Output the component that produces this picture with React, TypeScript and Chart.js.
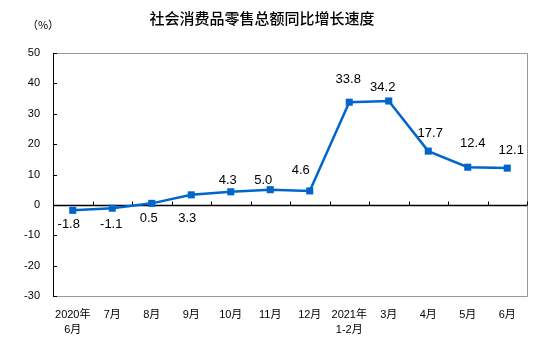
import React, { useEffect, useRef } from "react";
import { Chart, registerables } from "chart.js";

Chart.register(...registerables);

const titleText = "社会消费品零售总额同比增长速度";
const unitText = "（%）";
const categories: (string | string[])[] = [
  ["2020年", "6月"], "7月", "8月", "9月", "10月", "11月", "12月",
  ["2021年", "1-2月"], "3月", "4月", "5月", "6月",
];
const growth = [-1.8, -1.1, 0.5, 3.3, 4.3, 5.0, 4.6, 33.8, 34.2, 17.7, 12.4, 12.1];
const valueLabels = ["-1.8", "-1.1", "0.5", "3.3", "4.3", "5.0", "4.6", "33.8", "34.2", "17.7", "12.4", "12.1"];
const yMin = -30;
const yMax = 50;
const yStep = 10;

// label placement relative to its point (style only)
const labelDx = [-4, -1, -3, -4, -3, -7, -9, -1, -6, 2, 5, 4];
const labelDy = [14, 16, 15, 24, -11, -9, -20, -23, -14, -18, -24, -18];

const BLUE = "#0066CC";
const GRAY = "#999999";
const FONT = '"Liberation Sans", Arial, "Noto Sans CJK SC", sans-serif';

const framePlugin = {
  id: "frame",
  beforeDatasetsDraw(chart: any) {
    const { ctx, chartArea } = chart;
    const { left, right, top, bottom } = chartArea;
    const y = chart.scales.y;
    const x = chart.scales.x;
    ctx.save();
    ctx.lineWidth = 1;
    ctx.strokeStyle = GRAY;
    ctx.beginPath();
    ctx.moveTo(left, top + 0.5);
    ctx.lineTo(right + 0.5, top + 0.5);
    ctx.lineTo(right + 0.5, bottom + 0.5);
    ctx.lineTo(left, bottom + 0.5);
    ctx.stroke();
    ctx.strokeStyle = "#000";
    ctx.beginPath();
    ctx.moveTo(left + 0.5, top);
    ctx.lineTo(left + 0.5, bottom + 1);
    ctx.stroke();
    // y ticks inward
    for (let v = yMin; v <= yMax; v += yStep) {
      const py = Math.round(y.getPixelForValue(v)) + 0.5;
      ctx.beginPath();
      ctx.moveTo(left, py);
      ctx.lineTo(left + 4, py);
      ctx.stroke();
    }
    // zero line with ticks at category boundaries
    const zy = Math.round(y.getPixelForValue(0)) + 0.5;
    ctx.lineWidth = 1.3;
    ctx.beginPath();
    ctx.moveTo(left, zy);
    ctx.lineTo(right, zy);
    ctx.stroke();
    ctx.lineWidth = 1;
    for (let i = 0; i <= categories.length; i++) {
      const px = Math.round(x.getPixelForValue(i - 0.5)) + 0.5;
      ctx.beginPath();
      ctx.moveTo(px, zy);
      ctx.lineTo(px, zy - 4);
      ctx.stroke();
    }
    ctx.restore();
  },
  afterDatasetsDraw(chart: any) {
    const { ctx } = chart;
    const meta = chart.getDatasetMeta(0);
    ctx.save();
    ctx.fillStyle = "#000";
    ctx.font = "13px " + FONT;
    ctx.textAlign = "center";
    ctx.textBaseline = "middle";
    meta.data.forEach((pt: any, i: number) => {
      ctx.fillText(valueLabels[i], pt.x + labelDx[i], pt.y + labelDy[i]);
    });
    ctx.restore();
  },
  afterDraw(chart: any) {
    const { ctx } = chart;
    ctx.save();
    ctx.fillStyle = "#000";
    ctx.textAlign = "center";
    ctx.textBaseline = "middle";
    ctx.font = '500 15px "Noto Sans CJK SC", sans-serif';
    ctx.fillText(titleText, 262, 18);
    ctx.font = '11px "Noto Sans CJK SC", sans-serif';
    ctx.fillText(unitText, 43, 25);
    ctx.restore();
  },
};

export default function App() {
  const ref = useRef<HTMLCanvasElement>(null);
  useEffect(() => {
    if (!ref.current) return;
    const chart = new Chart(ref.current, {
      type: "line",
      data: {
        labels: categories,
        datasets: [
          {
            data: growth,
            borderColor: BLUE,
            backgroundColor: BLUE,
            borderWidth: 2.5,
            pointStyle: "rect",
            pointRadius: 5,
            pointBorderWidth: 0,
            pointBackgroundColor: BLUE,
            tension: 0,
          },
        ],
      },
      options: {
        responsive: false,
        animation: false,
        events: [],
        layout: { padding: { left: 0, top: 53, right: 27, bottom: 0 } },
        plugins: { legend: { display: false }, tooltip: { enabled: false }, title: { display: false } },
        scales: {
          x: {
            type: "category",
            offset: true,
            grid: { display: false, drawTicks: false },
            border: { display: false },
            ticks: {
              color: "#000",
              padding: 12,
              maxRotation: 0,
              autoSkip: false,
              font: { family: FONT, size: 11, lineHeight: 1.35 },
            },
            afterFit(scale: any) {
              scale.height = 55;
            },
          },
          y: {
            min: yMin,
            max: yMax,
            grid: { display: false, drawTicks: false },
            border: { display: false },
            ticks: {
              stepSize: yStep,
              color: "#000",
              padding: 13,
              font: { family: FONT, size: 11 },
            },
            afterFit(scale: any) {
              scale.width = 53;
            },
          },
        },
      },
      plugins: [framePlugin],
    });
    return () => chart.destroy();
  }, []);
  return (
    <canvas
      ref={ref}
      width={554}
      height={351}
      style={{ position: "absolute", left: 0, top: 0, display: "block", width: 554, height: 351 }}
    />
  );
}
